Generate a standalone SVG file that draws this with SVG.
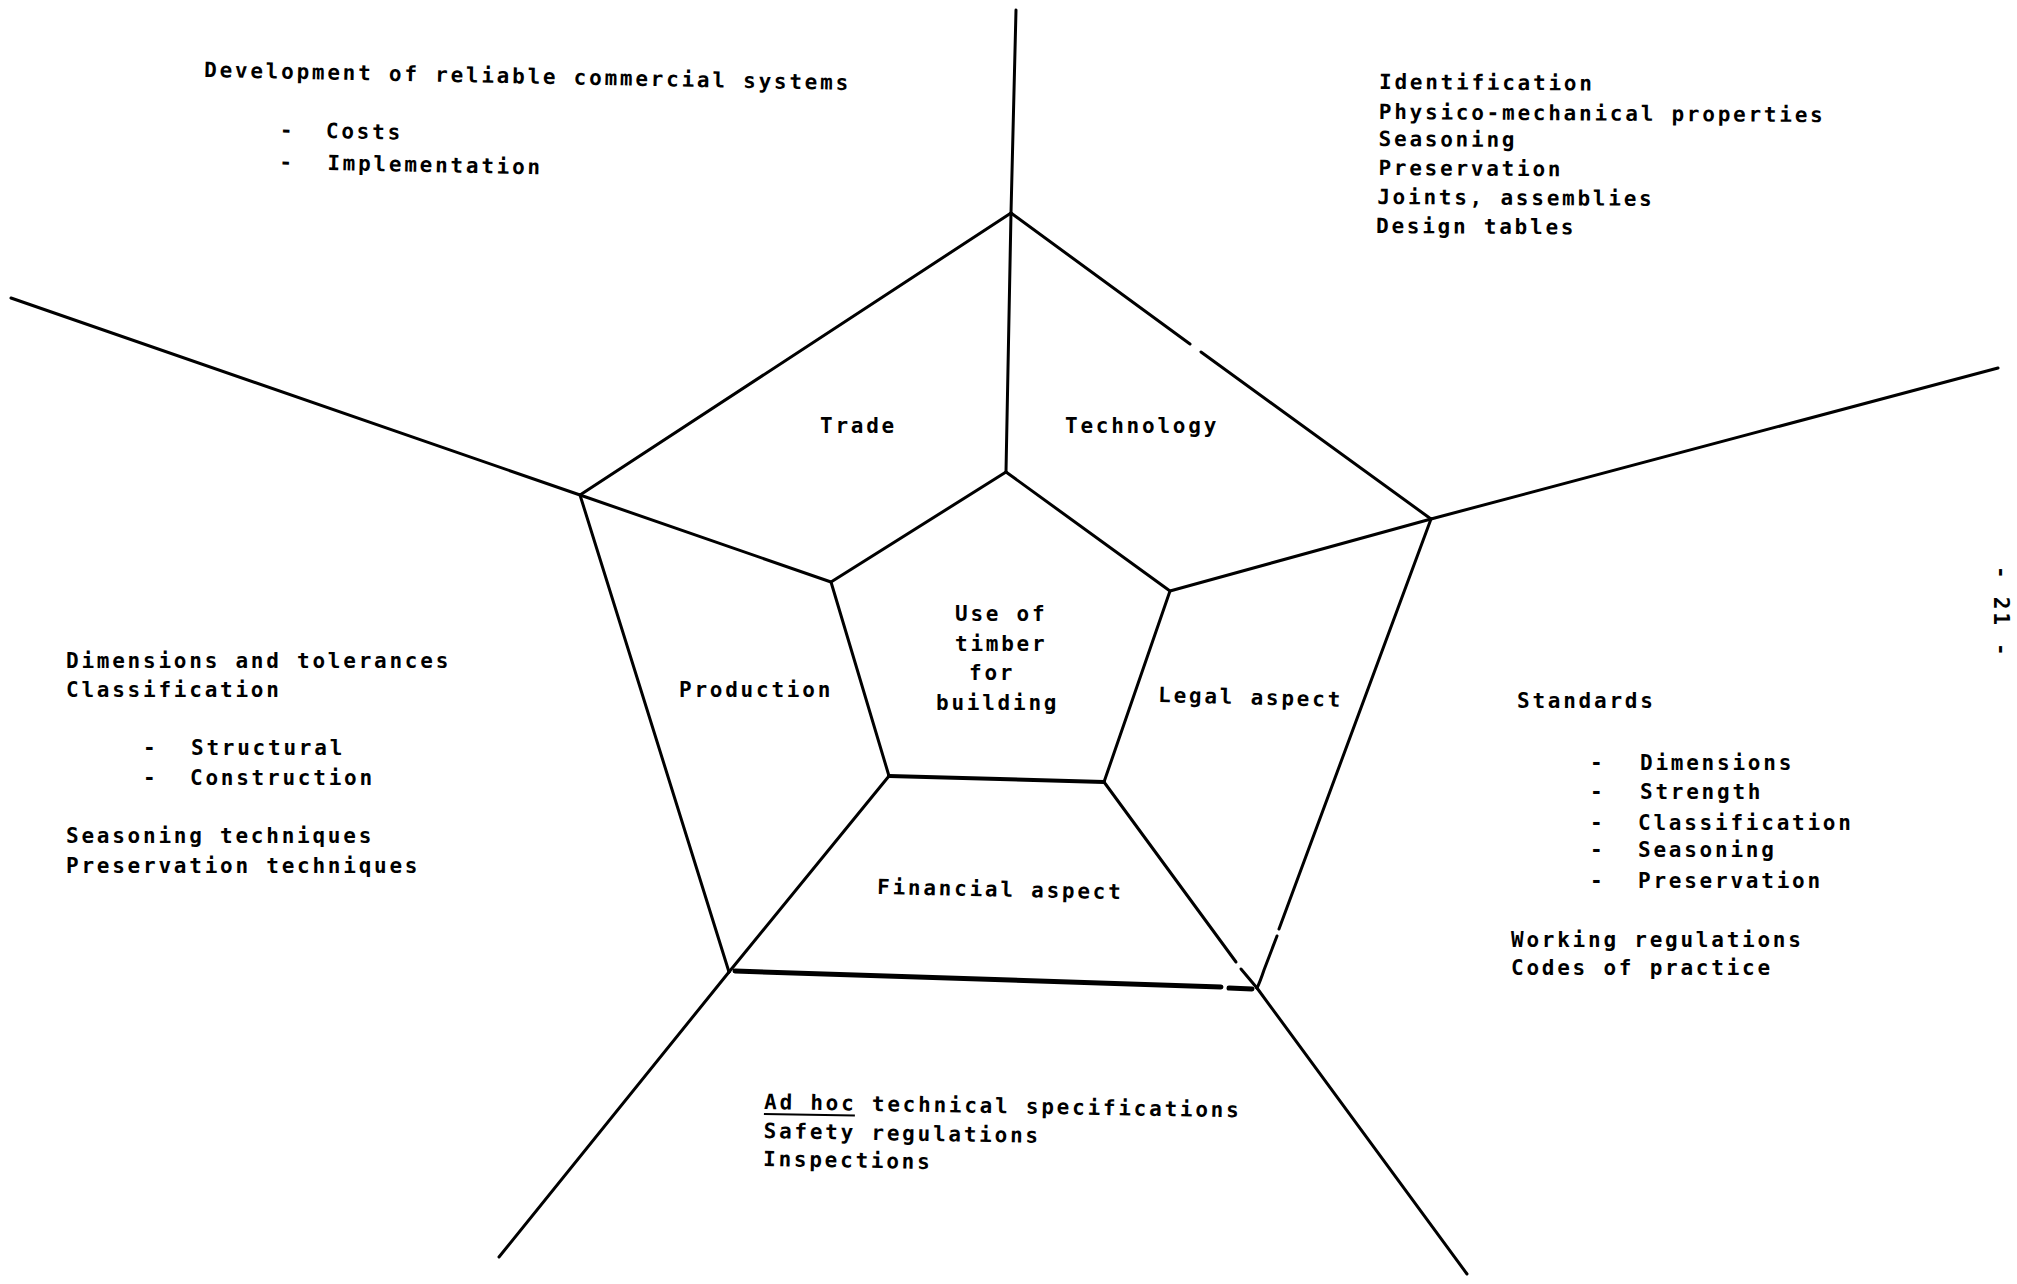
<svg xmlns="http://www.w3.org/2000/svg" width="2017" height="1284" viewBox="0 0 2017 1284">
<style>
.t{font-family:"DejaVu Sans Mono","Liberation Mono",monospace;font-size:21px;font-weight:bold;letter-spacing:2.76px;fill:#000}
.n{font-family:"DejaVu Sans Mono","Liberation Mono",monospace;font-size:21px;font-weight:bold;letter-spacing:2.76px;fill:#000}
.l{stroke:#000;stroke-width:3;fill:none;stroke-linecap:round;stroke-linejoin:round}
.h{stroke:#000;stroke-width:5;fill:none;stroke-linecap:round}
</style>
<rect width="2017" height="1284" fill="#fff"/>
<g id="connectors">
<line class="l" x1="1011" y1="213" x2="1016" y2="10"/>
<line class="l" x1="1431" y1="519" x2="1998" y2="368"/>
<line class="l" x1="1257" y1="988" x2="1467" y2="1274"/>
<line class="l" x1="729" y1="972" x2="499" y2="1257"/>
<line class="l" x1="580" y1="495" x2="11" y2="298"/>
<line class="l" x1="1011" y1="213" x2="1190" y2="344"/>
<line class="l" x1="1201" y1="352" x2="1431" y2="519"/>
<line class="l" x1="1431" y1="519" x2="1279" y2="929"/>
<path class="l" d="M1277 936 L1264 970 Q1260 982 1257 988"/>
<line class="h" x1="735" y1="971" x2="1221" y2="987"/>
<line class="h" x1="1229" y1="988" x2="1252" y2="989"/>
<line class="l" x1="729" y1="972" x2="580" y2="495"/>
<line class="l" x1="580" y1="495" x2="1011" y2="213"/>
<line class="l" x1="1011" y1="213" x2="1006" y2="472"/>
<line class="l" x1="1431" y1="519" x2="1170" y2="591"/>
<line class="l" x1="1104" y1="782" x2="1236" y2="962"/>
<line class="l" x1="1241" y1="969" x2="1257" y2="988"/>
<line class="l" x1="889" y1="776" x2="729" y2="972"/>
<line class="l" x1="831" y1="582" x2="580" y2="495"/>
<polyline class="l" points="1006,472 1170,591 1104,782"/>
<line class="l" x1="1104" y1="782" x2="889" y2="776" style="stroke-width:4"/>
<polyline class="l" points="889,776 831,582 1006,472"/>
</g>
<g id="node-center">
<text class="n" x="955" y="621">Use of</text>
<text class="n" x="955" y="651">timber</text>
<text class="n" x="969" y="680">for</text>
<text class="n" x="936" y="710">building</text>
</g>
<g id="node-trade"><text class="n" x="820" y="433">Trade</text></g>
<g id="node-technology"><text class="n" x="1065" y="433">Technology</text></g>
<g id="node-production"><text class="n" x="679" y="697">Production</text></g>
<g id="node-legal"><text class="n" x="1158" y="702" transform="rotate(1.5 1158 702)">Legal aspect</text></g>
<g id="node-financial"><text class="n" x="877" y="894" transform="rotate(1.2 877 894)">Financial aspect</text></g>
<g id="block-trade" transform="rotate(1.15 204 77)">
<text class="t" x="204" y="77">Development of reliable commercial systems</text>
<text class="t" x="281" y="135.5">-</text><text class="t" x="327" y="135.5">Costs</text>
<text class="t" x="281" y="167.5">-</text><text class="t" x="329" y="167.5">Implementation</text>
</g>
<g id="block-technology" transform="rotate(0.4 1379 89)">
<text class="t" x="1379" y="89">Identification</text>
<text class="t" x="1379" y="119">Physico-mechanical properties</text>
<text class="t" x="1379" y="146">Seasoning</text>
<text class="t" x="1379" y="175">Preservation</text>
<text class="t" x="1378" y="204">Joints, assemblies</text>
<text class="t" x="1377" y="233">Design tables</text>
</g>
<g id="block-production">
<text class="t" x="66" y="668">Dimensions and tolerances</text>
<text class="t" x="66" y="697">Classification</text>
<text class="t" x="143" y="755">-</text><text class="t" x="191" y="755">Structural</text>
<text class="t" x="143" y="785">-</text><text class="t" x="190" y="785">Construction</text>
<text class="t" x="66" y="843">Seasoning techniques</text>
<text class="t" x="66" y="873">Preservation techniques</text>
</g>
<g id="block-legal">
<text class="t" x="1517" y="708">Standards</text>
<text class="t" x="1590" y="770">-</text><text class="t" x="1640" y="770">Dimensions</text>
<text class="t" x="1590" y="799">-</text><text class="t" x="1640" y="799">Strength</text>
<text class="t" x="1590" y="830">-</text><text class="t" x="1638" y="830">Classification</text>
<text class="t" x="1590" y="857">-</text><text class="t" x="1638" y="857">Seasoning</text>
<text class="t" x="1590" y="888">-</text><text class="t" x="1638" y="888">Preservation</text>
<text class="t" x="1511" y="947">Working regulations</text>
<text class="t" x="1511" y="975">Codes of practice</text>
</g>
<g id="block-financial" transform="rotate(1 764 1109)">
<text class="t" x="764" y="1109">Ad hoc technical specifications</text>
<line x1="764" y1="1114" x2="855" y2="1114" stroke="#000" stroke-width="2"/>
<text class="t" x="764" y="1138">Safety regulations</text>
<text class="t" x="764" y="1166">Inspections</text>
</g>
<g id="page-number">
<text class="t" transform="translate(1994 566) rotate(90)">- 21 -</text>
</g>
</svg>
